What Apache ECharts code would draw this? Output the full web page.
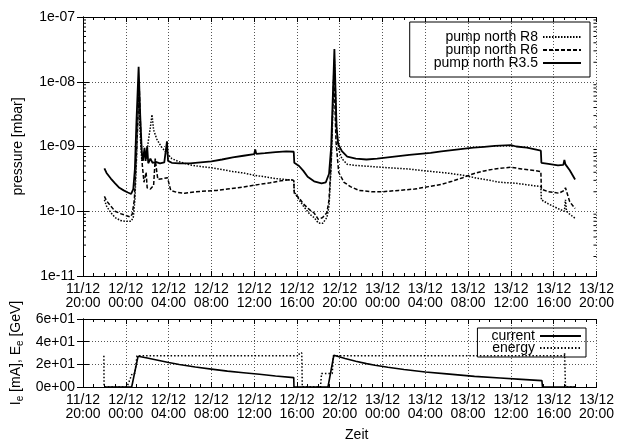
<!DOCTYPE html>
<html>
<head>
<meta charset="utf-8">
<script src="https://cdn.jsdelivr.net/npm/echarts@6/dist/echarts.min.js"></script>
<style>
  html, body { margin: 0; padding: 0; background: #fff; }
  #chart { width: 617px; height: 443px; }
</style>
</head>
<body>
<div id="chart"></div>
<script>
// time in hours, counted from 11/12 20:00
const xTickLabels = ['11/12\n20:00', '12/12\n00:00', '12/12\n04:00', '12/12\n08:00', '12/12\n12:00',
  '12/12\n16:00', '12/12\n20:00', '13/12\n00:00', '13/12\n04:00', '13/12\n08:00', '13/12\n12:00',
  '13/12\n16:00', '13/12\n20:00']
const pTickLabels = ['1e-11', '1e-10', '1e-09', '1e-08', '1e-07']
const beamTickLabels = ['0e+00', '2e+01', '4e+01', '6e+01']
// gnuplot style log minor ticks 2..9 per decade
const logMinorTicks = [
  2e-11, 3e-11, 4e-11, 5e-11, 6e-11, 7e-11, 8e-11, 9e-11,
  2e-10, 3e-10, 4e-10, 5e-10, 6e-10, 7e-10, 8e-10, 9e-10,
  2e-9, 3e-9, 4e-9, 5e-9, 6e-9, 7e-9, 8e-9, 9e-9,
  2e-8, 3e-8, 4e-8, 5e-8, 6e-8, 7e-8, 8e-8, 9e-8
]

// pump north R8 (dotted)
const r8 = [[2.0, 1.5e-10], [2.2, 1.2e-10], [2.6, 9.5e-11], [3.0, 8e-11], [3.5, 7.2e-11], [4.0, 7e-11],
  [4.5, 7e-11], [4.7, 8e-11], [4.85, 1.5e-10], [5.0, 6e-10], [5.2, 6e-9], [5.35, 1.5e-9], [5.5, 6e-10],
  [5.7, 8e-10], [5.9, 6.5e-10], [6.1, 1.2e-9], [6.3, 2e-9], [6.45, 3.1e-9], [6.6, 1.8e-9], [6.9, 1.3e-9],
  [7.3, 1e-9], [7.8, 8e-10], [8.3, 6.5e-10], [9, 5.8e-10], [10, 5.2e-10], [11, 4.9e-10], [12, 4.7e-10],
  [13, 4.4e-10], [14, 4.1e-10], [15, 3.9e-10], [16, 3.6e-10], [17, 3.4e-10], [18, 3.2e-10], [19.7, 3.0e-10],
  [19.75, 2.0e-10], [20.2, 1.5e-10], [20.6, 1.2e-10], [21.2, 9e-11], [21.6, 8e-11], [22.0, 6.6e-11],
  [22.4, 6.5e-11], [22.8, 8e-11], [23.0, 1.2e-10], [23.2, 5e-10], [23.5, 2.2e-8], [23.7, 2e-9], [23.9, 9e-10],
  [24.2, 6.5e-10], [24.7, 5.3e-10], [25.5, 5.1e-10], [27, 4.9e-10], [28.5, 4.7e-10], [30.4, 4.5e-10],
  [32, 4.2e-10], [34, 3.9e-10], [35.5, 3.6e-10], [37, 3.2e-10], [38, 3.0e-10], [39, 2.8e-10], [40.5, 2.7e-10],
  [42, 2.5e-10], [42.8, 2.4e-10], [42.85, 1.5e-10], [43.5, 1.3e-10], [44.4, 1.1e-10], [45, 1.0e-10],
  [45.1, 1.5e-10], [45.2, 1.0e-10], [45.5, 9e-11], [46, 7.8e-11]]

// pump north R6 (dashed)
const r6 = [[2.0, 1.7e-10], [2.2, 1.45e-10], [2.6, 1.2e-10], [3.0, 1.0e-10], [3.5, 9.2e-11], [4.0, 8.6e-11],
  [4.4, 8.2e-11], [4.6, 9e-11], [4.8, 1.5e-10], [4.95, 5e-10], [5.1, 2e-9], [5.25, 9e-9], [5.4, 1.5e-9],
  [5.55, 5e-10], [5.7, 2.8e-10], [5.9, 4e-10], [6.0, 2.3e-10], [6.3, 2.2e-10], [6.6, 2.5e-10], [6.75, 6.5e-10],
  [6.9, 4e-10], [7.0, 3.1e-10], [7.5, 3.2e-10], [7.9, 3.3e-10], [8.2, 2.1e-10], [8.8, 1.95e-10], [9.5, 1.9e-10],
  [10.5, 2.0e-10], [11.5, 2.05e-10], [12.5, 2.1e-10], [13.5, 2.2e-10], [14.5, 2.3e-10], [15.5, 2.45e-10],
  [16.5, 2.6e-10], [17.5, 2.75e-10], [18.5, 2.95e-10], [19.4, 3.1e-10], [19.7, 3.0e-10], [19.75, 1.9e-10],
  [20.2, 1.6e-10], [20.6, 1.3e-10], [21.2, 1.05e-10], [21.6, 9.4e-11], [22.0, 7.5e-11], [22.4, 8e-11],
  [22.8, 9.5e-11], [23.0, 1.5e-10], [23.2, 6e-10], [23.45, 1.5e-8], [23.65, 1.2e-9], [23.9, 4e-10],
  [24.4, 2.8e-10], [25.0, 2.4e-10], [25.8, 2.1e-10], [27, 2.0e-10], [28, 2.0e-10], [29.5, 2.1e-10],
  [31, 2.2e-10], [32.3, 2.4e-10], [33.5, 2.6e-10], [34.5, 2.9e-10], [35.5, 3.3e-10], [36.5, 3.8e-10],
  [37.5, 4.2e-10], [38.5, 4.5e-10], [40, 4.8e-10], [41, 4.5e-10], [42, 4.3e-10], [42.8, 4.1e-10],
  [42.85, 2.2e-10], [43.5, 2.0e-10], [44.5, 1.9e-10], [45, 2.1e-10], [45.1, 2.3e-10], [45.5, 1.4e-10],
  [46, 1.1e-10]]

// pump north R3.5 (solid)
const r35 = [[2.0, 4.6e-10], [2.2, 3.9e-10], [2.6, 3.2e-10], [3.0, 2.7e-10], [3.4, 2.3e-10], [3.8, 2.1e-10],
  [4.2, 1.95e-10], [4.5, 1.85e-10], [4.7, 2.2e-10], [4.85, 4.5e-10], [5.0, 2.5e-9], [5.2, 1.7e-8], [5.35, 3e-9],
  [5.5, 8e-10], [5.6, 6e-10], [5.75, 9.5e-10], [5.85, 6e-10], [6.0, 1.0e-9], [6.1, 5.5e-10], [6.3, 6.5e-10],
  [6.5, 5.6e-10], [6.8, 5.8e-10], [7.2, 5.5e-10], [7.6, 5.7e-10], [7.85, 1.2e-9], [7.95, 6e-10], [8.3, 5.6e-10],
  [9, 5.5e-10], [10, 5.5e-10], [11, 5.7e-10], [12, 5.9e-10], [13, 6.3e-10], [14, 6.8e-10], [15, 7.2e-10],
  [16, 7.6e-10], [16.1, 9e-10], [16.2, 7.7e-10], [17, 7.9e-10], [18, 8.2e-10], [19, 8.4e-10], [19.7, 8.3e-10],
  [19.75, 5.6e-10], [20.2, 5.0e-10], [20.6, 4.2e-10], [21.0, 3.4e-10], [21.6, 2.9e-10], [22.3, 2.7e-10],
  [22.7, 2.8e-10], [23.0, 3.8e-10], [23.2, 1e-9], [23.5, 3.2e-8], [23.7, 2e-9], [23.85, 1.1e-9], [24.2, 8.5e-10],
  [24.7, 7e-10], [25.5, 6.5e-10], [26.5, 6.3e-10], [27.5, 6.5e-10], [28.5, 6.8e-10], [29.5, 7.1e-10],
  [30.5, 7.4e-10], [31.5, 7.7e-10], [32.5, 8.0e-10], [33.5, 8.4e-10], [34.5, 8.8e-10], [35.5, 9.2e-10],
  [36.5, 9.6e-10], [37.5, 9.9e-10], [38.5, 1.02e-9], [39.5, 1.04e-9], [40, 1.05e-9], [40.5, 1.0e-9],
  [41.5, 9.6e-10], [42.8, 8.6e-10], [42.85, 5.6e-10], [43.5, 5.4e-10], [44.4, 5.1e-10], [44.9, 5.2e-10],
  [45.0, 6.2e-10], [45.1, 5.3e-10], [45.5, 4.3e-10], [46.0, 3.1e-10]]

// beam current [mA] and energy [GeV]
const current = [[2.0, 0], [4.55, 0], [5.15, 27.2], [6, 25.6], [7, 23.6], [8, 21.6], [9, 19.8], [10.5, 17.6],
  [12, 15.8], [13.5, 14.0], [15, 12.6], [16.5, 11.2], [18, 9.7], [19.7, 8.3], [19.72, 0], [22.9, 0],
  [23.45, 28], [24.5, 25.2], [25.5, 22.8], [26.5, 20.6], [27.3, 19.2], [28.5, 17.4], [30, 15.5], [32, 13.3],
  [34, 11.6], [36.6, 9.4], [39, 7.9], [41, 6.7], [42.9, 5.6], [42.95, 0], [46, 0]]
const energy = [[1.95, 27.5], [1.97, 0], [4.1, 0], [4.4, 7], [4.6, 12], [4.85, 12], [5.05, 27.5], [20.2, 27.5],
  [20.22, 30], [20.45, 30], [20.5, 0], [22.2, 0], [22.3, 12], [23.3, 12], [23.4, 27.5], [45, 27.5],
  [45.02, 30], [45.08, 30], [45.1, 0], [46, 0]]

const font = 'Liberation Sans, Arial, sans-serif'
const black = '#000'

function timeAxis(grid, pos, withLabels) {
  return {
    type: 'value',
    gridIndex: grid,
    position: pos,
    min: 0,
    max: 48,
    interval: 4,
    axisLine: { show: true, onZero: false, lineStyle: { color: black, width: 1 } },
    axisTick: { show: true, inside: true, length: 5, lineStyle: { color: black } },
    minorTick: { show: true, splitNumber: 4, length: 3, lineStyle: { color: black } },
    axisLabel: {
      show: withLabels,
      formatter: v => xTickLabels[Math.round(v / 4)],
      color: black,
      fontSize: 14,
      fontFamily: font,
      lineHeight: 14,
      margin: 6
    },
    splitLine: { show: withLabels, lineStyle: { color: '#555', type: [1, 2] } }
  }
}

const chart = echarts.init(document.getElementById('chart'), null, { renderer: 'canvas' })

const xAxes = [timeAxis(0, 'bottom', true), timeAxis(0, 'top', false), timeAxis(1, 'bottom', true), timeAxis(1, 'top', false)]
xAxes[2].name = 'Zeit'
xAxes[2].nameLocation = 'middle'
xAxes[2].nameGap = 41
xAxes[2].nameTextStyle = { color: black, fontSize: 14, fontFamily: font, padding: [0, 0, 0, 34] }

function pAxis(pos, withLabels) {
  return {
    type: 'log',
    gridIndex: 0,
    position: pos,
    logBase: 10,
    min: 1e-11,
    max: 1e-7,
    axisLine: { show: true, lineStyle: { color: black, width: 1 } },
    axisTick: { show: true, inside: true, length: 6, lineStyle: { color: black } },
    axisLabel: {
      show: withLabels,
      formatter: v => pTickLabels[Math.round(Math.log10(v)) + 11],
      color: black,
      fontSize: 14,
      fontFamily: font,
      margin: 8
    },
    splitLine: { show: withLabels, lineStyle: { color: '#555', type: [1, 2] } }
  }
}

function beamAxis(pos, withLabels) {
  return {
    type: 'value',
    gridIndex: 1,
    position: pos,
    min: 0,
    max: 60,
    interval: 20,
    axisLine: { show: true, lineStyle: { color: black, width: 1 } },
    axisTick: { show: true, inside: true, length: 6, lineStyle: { color: black } },
    axisLabel: {
      show: withLabels,
      formatter: v => beamTickLabels[Math.round(v / 20)],
      color: black,
      fontSize: 14,
      fontFamily: font,
      margin: 8
    },
    splitLine: { show: withLabels, lineStyle: { color: '#555', type: [1, 2] } }
  }
}

const yAxes = [pAxis('left', true), pAxis('right', false), beamAxis('left', true), beamAxis('right', false)]
yAxes[0].name = 'pressure [mbar]'
yAxes[0].nameLocation = 'middle'
yAxes[0].nameGap = 58
yAxes[0].nameTextStyle = { color: black, fontSize: 14, fontFamily: font }
yAxes[2].name = 'I{sub|e} [mA], E{sub|e} [GeV]'
yAxes[2].nameLocation = 'middle'
yAxes[2].nameGap = 58
yAxes[2].nameTextStyle = {
  color: black, fontSize: 14, fontFamily: font,
  rich: { sub: { fontSize: 10, fontFamily: font, color: black, verticalAlign: 'top', padding: [8, 0, 0, 0] } }
}

function lineSeries(name, data, x, y, type, width) {
  return {
    name: name,
    type: 'line',
    xAxisIndex: x,
    yAxisIndex: y,
    data: data,
    symbol: 'none',
    animation: false,
    itemStyle: { color: black },
    lineStyle: { color: black, width: width, type: type }
  }
}

const legendText = { color: black, fontSize: 14, fontFamily: font, lineHeight: 12 }

chart.setOption({
  backgroundColor: '#fff',
  animation: false,
  grid: [
    { left: 83, right: 19, top: 17, height: 259 },
    { left: 83, right: 19, top: 319, height: 72 }
  ],
  xAxis: xAxes,
  yAxis: yAxes,
  legend: [
    {
      data: ['pump north R8', 'pump north R6', 'pump north R3.5'],
      orient: 'vertical',
      align: 'right',
      right: 27,
      top: 22,
      itemWidth: 38,
      itemHeight: 10,
      itemGap: -1,
      padding: [8, 8, 7, 24],
      borderColor: black,
      borderWidth: 1,
      borderRadius: 0,
      itemStyle: { opacity: 0 },
      textStyle: legendText
    },
    {
      data: ['current', 'energy'],
      orient: 'vertical',
      align: 'right',
      right: 31,
      top: 328,
      itemWidth: 41,
      itemHeight: 10,
      itemGap: -2,
      padding: [1, 4, 2, 14],
      borderColor: black,
      borderWidth: 1,
      borderRadius: 0,
      itemStyle: { opacity: 0 },
      textStyle: legendText
    }
  ],
  series: [
    lineSeries('pump north R8', r8, 0, 0, [1.5, 1.5], 1.5),
    lineSeries('pump north R6', r6, 0, 0, [4, 2], 1.5),
    lineSeries('pump north R3.5', r35, 0, 0, 'solid', 1.8),
    lineSeries('current', current, 2, 2, 'solid', 1.6),
    lineSeries('energy', energy, 2, 2, [1.5, 2], 1.5),
    {
      // minor ticks of the log axis, on both sides of the frame
      type: 'custom',
      xAxisIndex: 0,
      yAxisIndex: 0,
      silent: true,
      data: logMinorTicks.map(v => [0, v]),
      renderItem: (params, api) => {
        const l = api.coord([0, api.value(1)])
        const r = api.coord([48, api.value(1)])
        return {
          type: 'group',
          children: [
            { type: 'line', shape: { x1: l[0], y1: l[1], x2: l[0] + 3, y2: l[1] }, style: { stroke: black, lineWidth: 1 } },
            { type: 'line', shape: { x1: r[0] - 3, y1: r[1], x2: r[0], y2: r[1] }, style: { stroke: black, lineWidth: 1 } }
          ]
        }
      }
    }
  ]
})
</script>
</body>
</html>
